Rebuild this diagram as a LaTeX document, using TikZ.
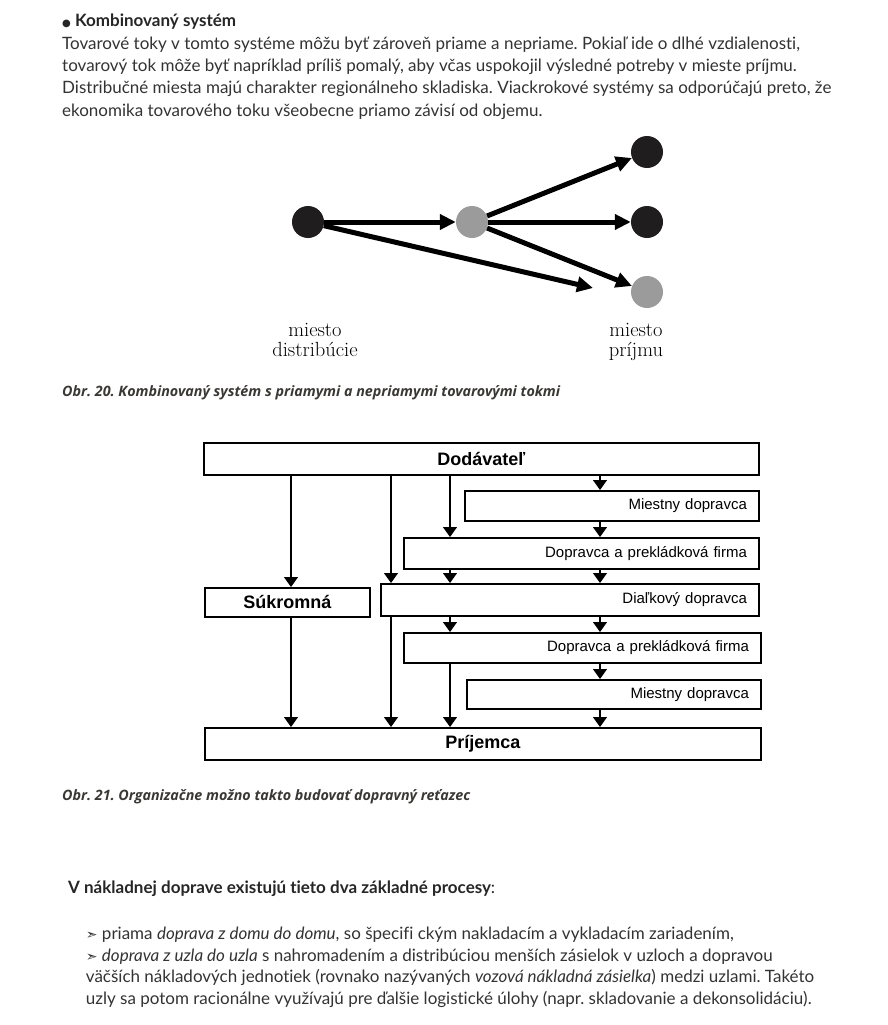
\documentclass[tikz,border=0pt]{standalone}
\usepackage{fontspec}
\usetikzlibrary{arrows.meta}
\newfontfamily\bodyfont[Ligatures=NoCommon]{Lato}
\newfontfamily\capfont{Open Sans}
\newfontfamily\boxfont{Liberation Sans}
\newfontfamily\symfont{DejaVu Sans}
\definecolor{txtgray}{HTML}{333333}
\definecolor{capgray}{HTML}{3A3835}
\definecolor{dotblack}{HTML}{1F1D1E}
\definecolor{dotgray}{HTML}{9B9B9B}
\frenchspacing

\begin{document}
\begin{tikzpicture}[x=1pt,y=-1pt,>=Latex]
  \tikzstyle{para}=[anchor=base west,inner sep=0pt,text=txtgray,font=\bodyfont\fontsize{17}{20}\selectfont]
  \tikzstyle{figcap}=[anchor=base west,inner sep=0pt,text=capgray,font=\capfont\bfseries\itshape\fontsize{14.3}{16}\selectfont]
  \tikzstyle{dot}=[circle,minimum size=32pt,inner sep=0pt]
  \tikzstyle{flow}=[line width=5pt,-{Triangle[length=16pt,width=15pt]}]
  \tikzstyle{lab}=[anchor=base,align=center,inner sep=0pt,font=\fontsize{20.5}{20}\selectfont]
  \tikzstyle{box}=[draw,line width=1.8pt,anchor=north west,inner ysep=0pt,font=\boxfont\fontsize{15}{18}\selectfont]
  \tikzstyle{rbox}=[box,align=right,inner xsep=12pt]
  \tikzstyle{cbox}=[box,font=\boxfont\bfseries\fontsize{18}{20}\selectfont]
  \tikzstyle{feed}=[line width=1.3pt,-{Triangle[length=10pt,width=14pt]}]
  \newcommand{\bul}{{\symfont\fontsize{14}{14}\selectfont ➣}\ }

  \useasboundingbox (0,0) rectangle (888,1025);
  \fill[white] (0,0) rectangle (888,1025);

  % uvodny text
  \node[para,font=\bodyfont\bfseries\fontsize{17}{20}\selectfont,text=black!85] (head) at (62,26.7) {{\symfont\fontsize{10}{10}\selectfont ●} Kombinovaný systém};
  \node[para] (t1) at (62,49.3) {Tovarové toky v tomto systéme môžu byť zároveň priame a nepriame. Pokiaľ ide o dlhé vzdialenosti,};
  \node[para] (t2) at (62,71.6) {tovarový tok môže byť napríklad príliš pomalý, aby včas uspokojil výsledné potreby v mieste príjmu.};
  \node[para] (t3) at (62,93.9) {Distribučné miesta majú charakter regionálneho skladiska. Viackrokové systémy sa odporúčajú preto, že};
  \node[para] (t4) at (62,116.2) {ekonomika tovarového toku všeobecne priamo závisí od objemu.};

  % obr. 20
  \node[dot,fill=dotblack] (dist) at (308,222) {};
  \node[dot,fill=dotgray] (hub) at (472,222) {};
  \node[dot,fill=dotblack] (r1) at (647,152) {};
  \node[dot,fill=dotblack] (r2) at (647,222) {};
  \node[dot,fill=dotgray] (r3) at (647,292) {};
  \coordinate (stop) at (593,288);
  \draw[flow] (dist) -- (hub);
  \draw[flow] (dist) -- (stop);
  \draw[flow] (hub) -- (r1);
  \draw[flow] (hub) -- (r2);
  \draw[flow] (hub) -- (r3);
  \node[lab] (distlbl) at (315,356.7) {miesto\\distribúcie};
  \node[lab] (prijlbl) at (636,356.7) {miesto\\príjmu};
  \node[figcap] (cap20) at (62,396.7) {Obr. 20. Kombinovaný systém s priamymi a nepriamymi tovarovými tokmi};

  % obr. 21
  \node[cbox,minimum width=555pt,minimum height=32pt] (dod) at (203,442) {Dodávateľ};
  \node[rbox,text width=270pt,minimum height=30pt] (mies1) at (464,490) {Miestny dopravca};
  \node[rbox,text width=331pt,minimum height=31pt] (dopr1) at (403,537) {Dopravca a prekládková firma};
  \node[cbox,minimum width=165pt,minimum height=29pt] (suk) at (204,587) {Súkromná};
  \node[rbox,text width=354pt,minimum height=32pt] (dial) at (380,583) {Diaľkový dopravca};
  \node[rbox,text width=333pt,minimum height=30pt] (dopr2) at (403,632) {Dopravca a prekládková firma};
  \node[rbox,text width=270pt,minimum height=29pt] (mies2) at (466,679) {Miestny dopravca};
  \node[cbox,minimum width=556pt,minimum height=32pt] (prij) at (204,727) {Príjemca};
  \coordinate (c1) at (291,0);
  \coordinate (c2) at (391,0);
  \coordinate (c3) at (450,0);
  \coordinate (c4) at (600,0);
  \foreach \col/\from/\to in {c1/dod/suk,c2/dod/dial,c3/dod/dopr1,c4/dod/mies1,c4/mies1/dopr1,
    c3/dopr1/dial,c4/dopr1/dial,c1/suk/prij,c2/dial/prij,c3/dial/dopr2,c4/dial/dopr2,
    c3/dopr2/prij,c4/dopr2/mies2,c4/mies2/prij}
    \draw[feed] (\col |- \from.south) -- (\col |- \to.north);
  \node[figcap] (cap21) at (62,800) {Obr. 21. Organizačne možno takto budovať dopravný reťazec};

  % procesy
  \node[para,text=black!85] (proc) at (68,893) {\textbf{V nákladnej doprave existujú tieto dva základné procesy}:};
  \node[para] (b1) at (85.7,939) {\bul priama \textit{doprava z domu do domu}, so špecifi ckým nakladacím a vykladacím zariadením,};
  \node[para] (b2) at (85.7,961) {\bul \textit{doprava z uzla do uzla} s nahromadením a distribúciou menších zásielok v uzloch a dopravou};
  \node[para] (b3) at (85.7,982.7) {väčších nákladových jednotiek (rovnako nazývaných \textit{vozová nákladná zásielka}) medzi uzlami. Takéto};
  \node[para] (b4) at (85.7,1004.3) {uzly sa potom racionálne využívajú pre ďalšie logistické úlohy (napr. skladovanie a dekonsolidáciu).};
\end{tikzpicture}
\end{document}
